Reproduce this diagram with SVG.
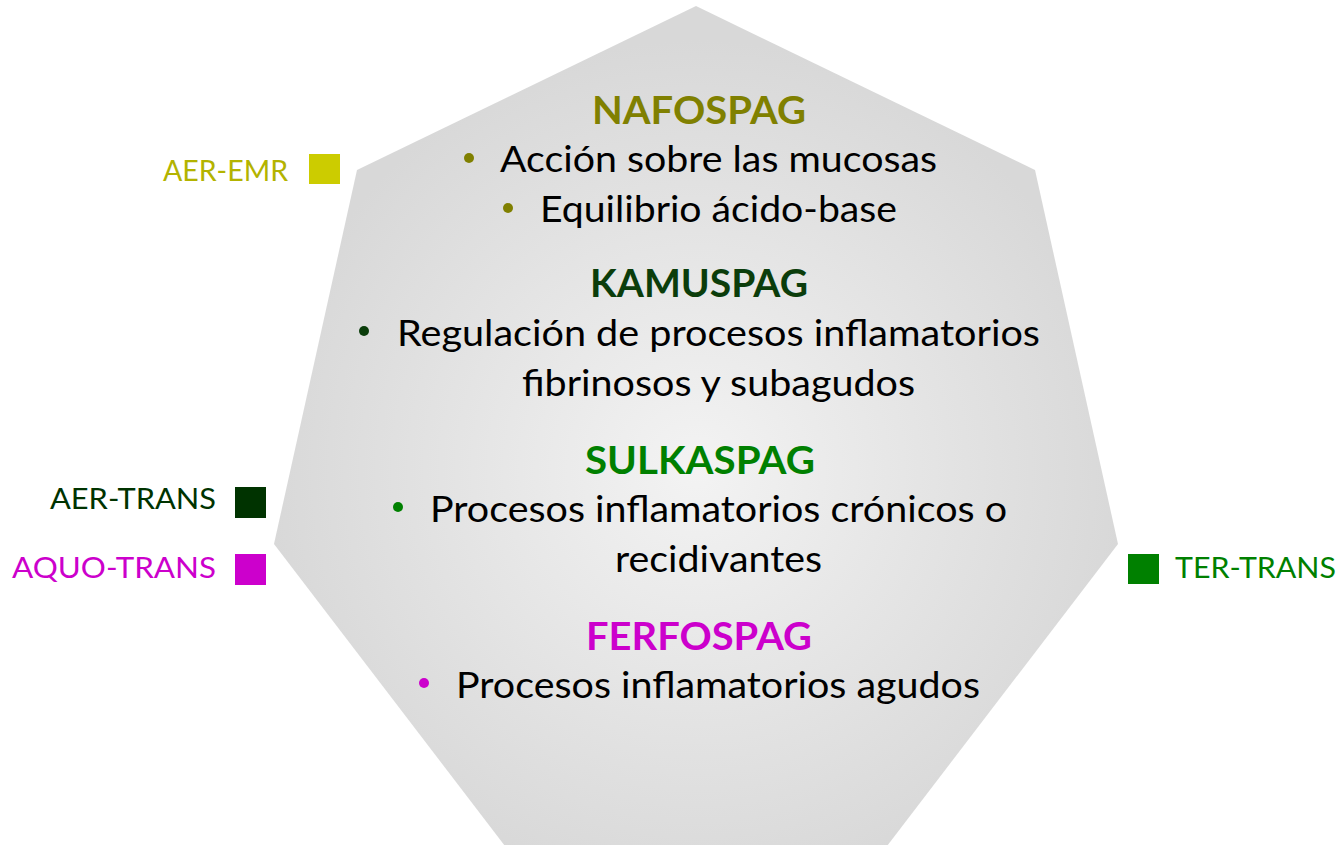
<svg xmlns="http://www.w3.org/2000/svg" width="1343" height="845" viewBox="0 0 1343 845">
  <style>
    .body { font-family: Lato, "Open Sans", sans-serif; font-size: 37px; fill: #000000; }
    .title { font-family: Lato, "Open Sans", sans-serif; font-size: 38px; font-weight: bold; text-anchor: middle; }
    .leg { font-family: Lato, "Liberation Sans", sans-serif; font-size: 29px; }
    .olive { fill: #808000; }
    .dkgreen { fill: #0b3d0b; }
    .green { fill: #008000; }
    .magenta { fill: #cc00cc; }
  </style>
  <defs>
    <radialGradient id="hepFill" gradientUnits="userSpaceOnUse" cx="696" cy="470" r="430">
      <stop offset="0" stop-color="#f3f3f3"/>
      <stop offset="1" stop-color="#d8d8d8"/>
    </radialGradient>
  </defs>
  <rect width="1343" height="845" fill="#ffffff"/>

  <g id="heptagon">
    <polygon points="696,6 1035,170 1118,544 884,850 508,850 274,544 357,170" fill="url(#hepFill)"/>
  </g>

  <g id="nafospag">
    <text class="title olive" x="699" y="124" textLength="214" lengthAdjust="spacingAndGlyphs">NAFOSPAG</text>
    <circle class="olive" cx="469" cy="158" r="5"/>
    <text class="body" x="500" y="172" textLength="437" lengthAdjust="spacingAndGlyphs">Acción sobre las mucosas</text>
    <circle class="olive" cx="508" cy="208" r="5"/>
    <text class="body" x="540" y="222" textLength="357" lengthAdjust="spacingAndGlyphs">Equilibrio ácido-base</text>
  </g>

  <g id="kamuspag">
    <text class="title dkgreen" x="699" y="297" textLength="218" lengthAdjust="spacingAndGlyphs">KAMUSPAG</text>
    <circle class="dkgreen" cx="364" cy="331" r="5"/>
    <text class="body" x="397" y="346" textLength="643" lengthAdjust="spacingAndGlyphs">Regulación de procesos inflamatorios</text>
    <text class="body" x="522" y="396" textLength="393" lengthAdjust="spacingAndGlyphs">fibrinosos y subagudos</text>
  </g>

  <g id="sulkaspag">
    <text class="title green" x="700" y="474" textLength="230" lengthAdjust="spacingAndGlyphs">SULKASPAG</text>
    <circle class="green" cx="398" cy="507" r="5"/>
    <text class="body" x="430" y="522" textLength="577" lengthAdjust="spacingAndGlyphs">Procesos inflamatorios crónicos o</text>
    <text class="body" x="615" y="572" textLength="207" lengthAdjust="spacingAndGlyphs">recidivantes</text>
  </g>

  <g id="ferfospag">
    <text class="title magenta" x="699" y="650" textLength="226" lengthAdjust="spacingAndGlyphs">FERFOSPAG</text>
    <circle class="magenta" cx="424" cy="683" r="5"/>
    <text class="body" x="456" y="698" textLength="524" lengthAdjust="spacingAndGlyphs">Procesos inflamatorios agudos</text>
  </g>

  <g id="legend-aer-emr">
    <text class="leg" x="163" y="181" fill="#b3b300" textLength="125" lengthAdjust="spacingAndGlyphs">AER-EMR</text>
    <rect x="309" y="154" width="31" height="30" fill="#cccc00"/>
  </g>
  <g id="legend-aer-trans">
    <text class="leg" x="50" y="509" fill="#003300" textLength="166" lengthAdjust="spacingAndGlyphs">AER-TRANS</text>
    <rect x="235" y="487" width="31" height="31" fill="#003300"/>
  </g>
  <g id="legend-aquo-trans">
    <text class="leg" x="12" y="578" fill="#cc00cc" textLength="204" lengthAdjust="spacingAndGlyphs">AQUO-TRANS</text>
    <rect x="235" y="554" width="31" height="31" fill="#cc00cc"/>
  </g>
  <g id="legend-ter-trans">
    <rect x="1128" y="554" width="31" height="30" fill="#008000"/>
    <text class="leg" x="1175" y="578" fill="#008000" textLength="161" lengthAdjust="spacingAndGlyphs">TER-TRANS</text>
  </g>
</svg>
